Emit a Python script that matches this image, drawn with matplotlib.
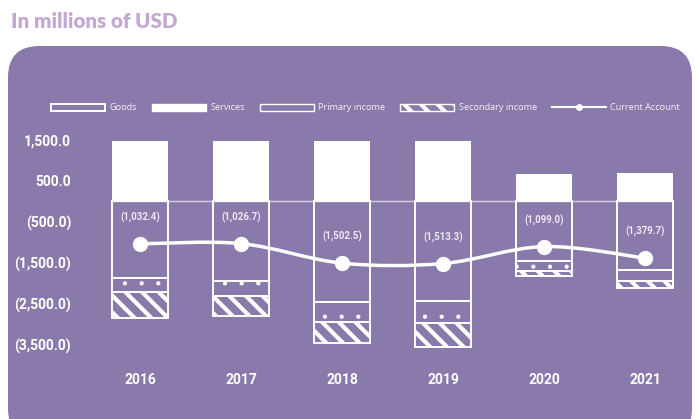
import numpy as np
import matplotlib.pyplot as plt
from matplotlib.patches import FancyBboxPatch, Patch, PathPatch
from matplotlib.lines import Line2D
from matplotlib.path import Path

# ==================== data (millions of USD) ==================== #
years = ['2016', '2017', '2018', '2019', '2020', '2021']
services = [1475, 1475, 1475, 1475, 670, 700]
goods = [-1870, -1930, -2440, -2420, -1440, -1670]
primary_income = [-330, -375, -490, -540, -245, -260]
secondary_income = [-650, -490, -510, -600, -130, -185]
current_account = [-1032.4, -1026.7, -1502.5, -1513.3, -1099.0, -1379.7]
yticks = [1500, 500, -500, -1500, -2500, -3500]
ytick_labels = ['1,500.0', '500.0', '(500.0)', '(1,500.0)', '(2,500.0)', '(3,500.0)']

bg = '#8a7aab'
title_col = '#c3a9d1'
plt.rcParams['font.family'] = ['Roboto', 'DejaVu Sans']
plt.rcParams['hatch.linewidth'] = 3.0


def thin_hatch(artists, lw=0.6):
    # dotted hatch needs a thinner hatch line than the stripes
    for a in artists:
        if hasattr(a, 'set_hatch_linewidth'):
            a.set_hatch_linewidth(lw)
        else:
            a._hatch_linewidth = lw


fig = plt.figure(figsize=(6.99, 4.19), dpi=100)

# rounded purple panel (behind everything)
panel = FancyBboxPatch((8 / 699, -0.05), 684 / 699, (419 - 46) / 419 + 0.05,
                       boxstyle='round,pad=0,rounding_size=0.045',
                       transform=fig.transFigure, facecolor=bg, edgecolor='none',
                       mutation_aspect=699 / 419, zorder=-10)
fig.patches.append(panel)

fig.text(11 / 699, 1 - 22 / 419, 'In millions of USD', color=title_col,
         fontsize=14.8, fontweight='heavy', family=['Lato', 'DejaVu Sans'],
         va='center', ha='left')

ax = fig.add_axes([79.4 / 699, (419 - 357.3) / 419, 606 / 699, 225.5 / 419], zorder=5)
ax.set_facecolor('none')
ax.set_xlim(-0.6, 5.4)
ax.set_ylim(-3800, 1700)
for s in ax.spines.values():
    s.set_visible(False)

x = np.arange(len(years))
w = 0.55
goods = np.array(goods)
primary_income = np.array(primary_income)

ax.hlines(0, -w / 2, 5 + w / 2, color='#d4cce3', lw=1.0, zorder=1)

ax.bar(x, services, w, color='white', edgecolor='none', zorder=2)
ax.bar(x, goods, w, facecolor='none', edgecolor='white', lw=1.4, zorder=2)
pb = ax.bar(x, primary_income, w, bottom=goods, facecolor='none', edgecolor='white',
            lw=1.4, hatch='.', zorder=2)
thin_hatch(pb.patches)
ax.bar(x, secondary_income, w, bottom=goods + primary_income, facecolor='none',
       edgecolor='white', lw=1.4, hatch='\\\\', zorder=2)

# smooth current account line (Catmull-Rom through the data points)
pts = np.column_stack([x, current_account])
ext = np.vstack([pts[0], pts, pts[-1]])
verts = [tuple(pts[0])]
codes = [Path.MOVETO]
for i in range(len(pts) - 1):
    p0, p1, p2, p3 = ext[i], ext[i + 1], ext[i + 2], ext[i + 3]
    verts += [tuple(p1 + (p2 - p0) / 6), tuple(p2 - (p3 - p1) / 6), tuple(p2)]
    codes += [Path.CURVE4] * 3
ax.add_patch(PathPatch(Path(verts, codes), facecolor='none', edgecolor='white',
                       lw=2.5, zorder=3))
ax.plot(x, current_account, 'o', color='white', ms=10, zorder=4)

for xi, v in zip(x, current_account):
    ax.annotate('({:,.1f})'.format(-v), (xi, v), xytext=(0, 19),
                textcoords='offset points', ha='center', va='center',
                fontsize=7, fontweight='bold', color='#ece8f3')

ax.set_yticks(yticks)
ax.set_yticklabels(ytick_labels)
ax.set_xticks(x)
ax.set_xticklabels(years)
ax.tick_params(length=0, colors='white', labelsize=10)
ax.tick_params(axis='y', pad=6)
ax.tick_params(axis='x', pad=11)
for t in ax.get_xticklabels() + ax.get_yticklabels():
    t.set_fontweight('bold')

prim_handle = Patch(facecolor='none', edgecolor='white', lw=1.0, hatch='.', label='Primary income')
handles = [
    Patch(facecolor='none', edgecolor='white', lw=1.4, label='Goods'),
    Patch(facecolor='white', edgecolor='white', label='Services'),
    prim_handle,
    Patch(facecolor='none', edgecolor='white', lw=1.0, hatch='\\\\', label='Secondary income'),
    Line2D([], [], color='white', lw=1.5, marker='o', ms=4, label='Current Account'),
]
leg = fig.legend(handles=handles, loc='center', bbox_to_anchor=(365.5 / 699, 1 - 108 / 419),
                 ncol=5, frameon=False, handlelength=5.9,
                 handleheight=0.9, handletextpad=0.5, columnspacing=1.6,
                 prop={'family': ['Open Sans', 'DejaVu Sans'], 'size': 6.6})
for t in leg.get_texts():
    t.set_color('#f2f0f6')
thin_hatch([h for h in leg.legend_handles if getattr(h, 'get_hatch', lambda: None)() == '.'])

fig.savefig('out.png', dpi=100)
